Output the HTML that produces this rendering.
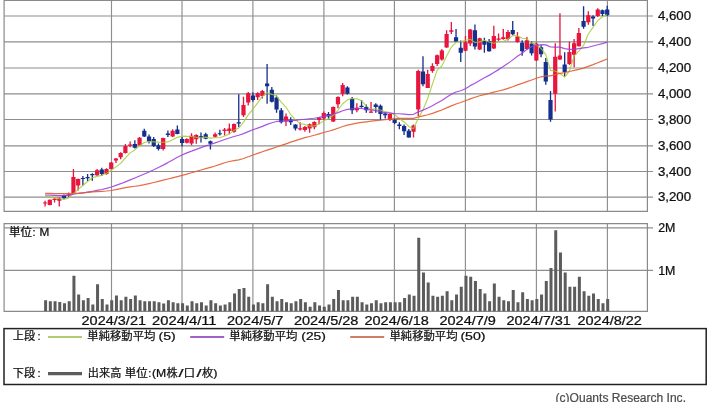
<!DOCTYPE html>
<html><head><meta charset="utf-8"><title>chart</title>
<style>html,body{margin:0;padding:0;background:#fff;overflow:hidden}body{width:709px;height:402px;position:relative;font-family:"Liberation Sans",sans-serif}</style></head>
<body>
<svg width="709" height="402" viewBox="0 0 709 402" style="display:block;position:absolute;left:0;top:0">
<rect x="0" y="0" width="709" height="402" fill="#ffffff"/>
<defs><filter id="soft" x="0" y="0" width="709" height="402" filterUnits="userSpaceOnUse"><feGaussianBlur stdDeviation="0.38"/></filter><filter id="softt" x="0" y="0" width="709" height="402" filterUnits="userSpaceOnUse"><feGaussianBlur stdDeviation="0.2"/></filter></defs>
<path d="M111.5 0.5V211.3M111.5 223.6V311.3M182 0.5V211.3M182 223.6V311.3M252.9 0.5V211.3M252.9 223.6V311.3M323.9 0.5V211.3M323.9 223.6V311.3M394.4 0.5V211.3M394.4 223.6V311.3M465.4 0.5V211.3M465.4 223.6V311.3M536.4 0.5V211.3M536.4 223.6V311.3M607.4 0.5V211.3M607.4 223.6V311.3" stroke="#8e8e8e" stroke-width="1.15" fill="none"/>
<path d="M4.1 197.1H653M4.1 171.5H653M4.1 145.8H653M4.1 119.5H653M4.1 93.85H653M4.1 68H653M4.1 41.85H653M4.1 15.95H653M4.1 227.9H653M4.1 270.3H653" stroke="#8e8e8e" stroke-width="1.15" fill="none"/>
<path d="M4.1 0.5H647.4V211.3H4.1ZM4.1 223.6H647.4V311.3H4.1Z" stroke="#8a8a8a" stroke-width="1.2" fill="none"/>
<g filter="url(#soft)">
<path d="M44.1 300.2h3V311.3h-3ZM48.82 301.2h3V311.3h-3ZM53.55 301.2h3V311.3h-3ZM58.27 302.1h3V311.3h-3ZM62.99 303.3h3V311.3h-3ZM67.72 301.2h3V311.3h-3ZM72.44 275.7h3V311.3h-3ZM77.16 294.5h3V311.3h-3ZM81.89 300.2h3V311.3h-3ZM86.61 297.9h3V311.3h-3ZM91.34 304.6h3V311.3h-3ZM96.06 284.3h3V311.3h-3ZM100.78 298.9h3V311.3h-3ZM105.51 304.6h3V311.3h-3ZM110.23 300.2h3V311.3h-3ZM114.95 295.5h3V311.3h-3ZM119.68 300.2h3V311.3h-3ZM124.4 296.7h3V311.3h-3ZM129.12 298.9h3V311.3h-3ZM133.85 295.5h3V311.3h-3ZM138.57 300.2h3V311.3h-3ZM143.29 301.2h3V311.3h-3ZM148.02 301.2h3V311.3h-3ZM152.74 301.2h3V311.3h-3ZM157.46 302.3h3V311.3h-3ZM162.19 303.6h3V311.3h-3ZM166.91 300.2h3V311.3h-3ZM171.63 302.3h3V311.3h-3ZM176.36 303.3h3V311.3h-3ZM181.08 303.3h3V311.3h-3ZM185.8 305.6h3V311.3h-3ZM190.53 301.2h3V311.3h-3ZM195.25 303.3h3V311.3h-3ZM199.98 302.3h3V311.3h-3ZM204.7 305.6h3V311.3h-3ZM209.42 300.2h3V311.3h-3ZM214.15 303.3h3V311.3h-3ZM218.87 305.6h3V311.3h-3ZM223.59 304.6h3V311.3h-3ZM228.32 302.3h3V311.3h-3ZM233.04 293.4h3V311.3h-3ZM237.76 289h3V311.3h-3ZM242.49 287.9h3V311.3h-3ZM247.21 296.7h3V311.3h-3ZM251.93 304.6h3V311.3h-3ZM256.66 302.3h3V311.3h-3ZM261.38 303.3h3V311.3h-3ZM266.1 284.3h3V311.3h-3ZM270.83 296.7h3V311.3h-3ZM275.55 301.2h3V311.3h-3ZM280.27 298.9h3V311.3h-3ZM285 302.3h3V311.3h-3ZM289.72 303.3h3V311.3h-3ZM294.45 301.2h3V311.3h-3ZM299.17 298.9h3V311.3h-3ZM303.89 302.3h3V311.3h-3ZM308.62 306.8h3V311.3h-3ZM313.34 302.3h3V311.3h-3ZM318.06 305.6h3V311.3h-3ZM322.79 306.8h3V311.3h-3ZM327.51 304.6h3V311.3h-3ZM332.23 298.9h3V311.3h-3ZM336.96 290h3V311.3h-3ZM341.68 300.2h3V311.3h-3ZM346.4 300.2h3V311.3h-3ZM351.13 296.7h3V311.3h-3ZM355.85 296.7h3V311.3h-3ZM360.57 302.3h3V311.3h-3ZM365.3 304.6h3V311.3h-3ZM370.02 303.3h3V311.3h-3ZM374.75 300.2h3V311.3h-3ZM379.47 303.3h3V311.3h-3ZM384.19 302.3h3V311.3h-3ZM388.92 302.3h3V311.3h-3ZM393.64 302.3h3V311.3h-3ZM398.36 302.3h3V311.3h-3ZM403.09 297.9h3V311.3h-3ZM407.81 294.5h3V311.3h-3ZM412.53 295.7h3V311.3h-3ZM417.26 237.8h3V311.3h-3ZM421.98 272.6h3V311.3h-3ZM426.7 282.4h3V311.3h-3ZM431.43 295.7h3V311.3h-3ZM436.15 296.7h3V311.3h-3ZM440.87 295.7h3V311.3h-3ZM445.6 291.3h3V311.3h-3ZM450.32 300.2h3V311.3h-3ZM455.04 294.5h3V311.3h-3ZM459.77 286.8h3V311.3h-3ZM464.49 275.7h3V311.3h-3ZM469.21 276.7h3V311.3h-3ZM473.94 281.1h3V311.3h-3ZM478.66 289h3V311.3h-3ZM483.39 293.4h3V311.3h-3ZM488.11 301.2h3V311.3h-3ZM492.83 283.4h3V311.3h-3ZM497.56 296.7h3V311.3h-3ZM502.28 300.2h3V311.3h-3ZM507 301.2h3V311.3h-3ZM511.73 290h3V311.3h-3ZM516.45 302.3h3V311.3h-3ZM521.17 292.3h3V311.3h-3ZM525.9 298.9h3V311.3h-3ZM530.62 300.2h3V311.3h-3ZM535.34 298.9h3V311.3h-3ZM540.07 294.5h3V311.3h-3ZM544.79 281.1h3V311.3h-3ZM549.51 268.1h3V311.3h-3ZM554.24 230.2h3V311.3h-3ZM558.96 252.4h3V311.3h-3ZM563.68 272.6h3V311.3h-3ZM568.41 286.8h3V311.3h-3ZM573.13 286.8h3V311.3h-3ZM577.86 276.7h3V311.3h-3ZM582.58 291.3h3V311.3h-3ZM587.3 295.7h3V311.3h-3ZM592.03 293.4h3V311.3h-3ZM596.75 298.9h3V311.3h-3ZM601.47 303.3h3V311.3h-3ZM606.2 298.9h3V311.3h-3Z" fill="#5c5c5c"/>
<path d="M45.1 200.7V206.4M49.82 199.5V205.3M54.55 197.8V202.6M59.27 197.5V206.4M68.72 192.5V196.9M73.44 169V193.3M78.16 178.5V190.6M97.06 169V176M106.51 168.3V174.7M111.23 162V169.5M115.95 158V163M120.68 152.3V159.2M125.4 144V153.5M130.12 141.5V147.2M139.57 137V145.7M163.19 137.7V150.4M172.63 129.2V137M186.8 138.3V143.4M191.53 133.2V145.3M196.25 134.3V143.8M215.15 132.4V137.4M224.59 127.9V135.5M229.32 123.5V134.3M234.04 123.5V132.7M243.49 96.7V117.1M248.21 92V105.6M257.66 92.3V99.9M262.38 90V98.6M286 113.4V126.1M300.17 122.3V130.5M304.89 126.1V131.8M309.62 123.5V132.7M314.34 121.2V129.2M319.06 116.9V124.2M323.79 111.5V119.7M333.23 106.4V121.9M337.96 96.2V108.3M342.68 83V96.3M356.85 103.3V112.2M371.02 102V112.8M389.92 113.4V121M413.53 124.4V137.5M418.26 69.7V115.9M427.7 69.7V88.1M432.43 63.3V72.8M437.15 54.4V65.9M441.87 49V60.7M446.6 30.2V47.7M451.32 22V34M465.49 35.9V51.2M470.21 29V46.1M479.66 37.8V49.9M493.83 25.8V49M498.56 33.4V41M503.28 29.1V39.7M508 30.1V40.6M517.45 32V42.7M526.9 37V49.7M536.34 42.4V61.1M555.24 43.3V111.6M559.96 13.3V60M569.41 41.7V65M574.13 39.1V67.3M578.86 28V46.6M588.3 11.2V24.8M597.75 8.2V17.1" stroke="#e8123c" stroke-width="1.3" fill="none"/>
<path d="M43 202.4h4.2V203.6h-4.2ZM47.72 199.8h4.2V205.1h-4.2ZM52.45 198.8h4.2V200.1h-4.2ZM57.17 198.5h4.2V200.7h-4.2ZM66.62 194.2h4.2V195.4h-4.2ZM71.34 177h4.2V193.1h-4.2ZM76.06 179.1h4.2V185.5h-4.2ZM94.96 170.2h4.2V175.3h-4.2ZM104.41 169h4.2V174h-4.2ZM109.13 162.6h4.2V169h-4.2ZM113.85 158.6h4.2V160.5h-4.2ZM118.58 152.9h4.2V157.3h-4.2ZM123.3 145.9h4.2V152.9h-4.2ZM128.02 144.4h4.2V145.7h-4.2ZM137.47 137.7h4.2V145.3h-4.2ZM161.09 138h4.2V149.1h-4.2ZM170.53 130.7h4.2V136.4h-4.2ZM184.7 138.9h4.2V142.7h-4.2ZM189.43 135.8h4.2V143.4h-4.2ZM194.15 134.9h4.2V139.3h-4.2ZM213.05 134.3h4.2V136.8h-4.2ZM222.49 129.4h4.2V131.1h-4.2ZM227.22 128.6h4.2V131.1h-4.2ZM231.94 124.1h4.2V131.7h-4.2ZM241.39 105h4.2V115.2h-4.2ZM246.11 93.3h4.2V102.4h-4.2ZM255.56 92.9h4.2V97.3h-4.2ZM260.28 91h4.2V96.1h-4.2ZM283.9 116.6h4.2V121.6h-4.2ZM298.07 128.3h4.2V129.5h-4.2ZM302.79 127.1h4.2V129.9h-4.2ZM307.52 124.2h4.2V128.6h-4.2ZM312.24 122h4.2V127.3h-4.2ZM316.96 117.8h4.2V119.7h-4.2ZM321.69 113.1h4.2V118.5h-4.2ZM331.13 107h4.2V121.5h-4.2ZM335.86 96.9h4.2V104.2h-4.2ZM340.58 84.9h4.2V93.8h-4.2ZM354.75 107.7h4.2V110.3h-4.2ZM368.92 111.5h4.2V112.8h-4.2ZM387.82 114.1h4.2V119.8h-4.2ZM411.43 125.5h4.2V131.8h-4.2ZM416.16 70.9h4.2V109.6h-4.2ZM425.6 74.1h4.2V88.1h-4.2ZM430.33 65.9h4.2V70.9h-4.2ZM435.05 55.3h4.2V64h-4.2ZM439.77 50.5h4.2V59.4h-4.2ZM444.5 34h4.2V47.4h-4.2ZM449.22 30.2h4.2V31.8h-4.2ZM463.39 42.3h4.2V50.8h-4.2ZM468.11 29.6h4.2V43.6h-4.2ZM477.56 38.2h4.2V49.5h-4.2ZM491.73 35.9h4.2V48.6h-4.2ZM496.46 38.5h4.2V39.7h-4.2ZM501.18 37.3h4.2V39h-4.2ZM505.9 31.9h4.2V39h-4.2ZM515.35 36.4h4.2V42.1h-4.2ZM524.8 40.2h4.2V49.1h-4.2ZM534.24 43.4h4.2V60.5h-4.2ZM553.14 56.7h4.2V93.8h-4.2ZM557.86 55.4h4.2V59.6h-4.2ZM567.31 52h4.2V64.1h-4.2ZM572.03 43.3h4.2V54.8h-4.2ZM576.76 33h4.2V46.3h-4.2ZM586.2 15.2h4.2V22.3h-4.2ZM595.65 9.5h4.2V15.9h-4.2Z" fill="#e8123c"/>
<path d="M63.99 194.4V198.8M82.89 176V185.5M87.61 174V181M92.34 173.2V180.8M101.78 167.7V176M134.85 140.2V148.5M144.29 128.8V137M149.02 134.5V143.4M153.74 137V147M158.46 143.4V150.4M167.91 130.4V137M177.36 125.6V134.2M182.08 137V146.6M200.98 132.4V142.5M205.7 132.7V139.3M210.42 140.6V149.5M219.87 129.8V135.5M238.76 94.2V127.3M252.93 92.3V101.8M267.1 64.1V103.7M271.83 86.9V102.4M276.55 95.6V112.7M281.27 108V123.5M290.72 117.2V125.1M295.45 124.2V130.5M328.51 112.1V119.1M347.4 86.2V94.4M352.13 96.9V114.1M361.57 100.1V107.7M366.3 104.6V112.8M375.75 103.3V112.8M380.47 104.6V119.8M385.19 112.2V118.5M394.64 117.9V124.2M399.36 122.3V129.3M404.09 124.4V135M408.81 129V137.5M422.98 56.3V86.2M456.04 29V41.9M460.77 40.4V61.9M474.94 24.5V49.5M484.39 37.8V52.8M489.11 39.1V51.8M512.73 21.1V35.2M522.17 40.2V55.8M531.62 41.5V55.4M541.07 45.3V57.3M545.79 58V84.7M550.51 91.1V121.8M564.68 52.3V76.5M583.58 6.3V28.7M593.03 15.2V26M602.47 9.5V15.9M607.2 5.7V15.9" stroke="#122f8c" stroke-width="1.3" fill="none"/>
<path d="M61.89 195h4.2V198.2h-4.2ZM80.79 177.9h4.2V179.1h-4.2ZM85.51 177h4.2V178.2h-4.2ZM90.24 174h4.2V175.3h-4.2ZM99.68 169.6h4.2V174h-4.2ZM132.75 144h4.2V147.8h-4.2ZM142.19 130.7h4.2V136.4h-4.2ZM146.92 136.4h4.2V141.5h-4.2ZM151.64 139h4.2V145.9h-4.2ZM156.36 145.3h4.2V149.1h-4.2ZM165.81 133.5h4.2V135.1h-4.2ZM175.26 129.4h4.2V133.9h-4.2ZM179.98 138.9h4.2V143.1h-4.2ZM198.88 136.2h4.2V137.4h-4.2ZM203.6 134.3h4.2V138.7h-4.2ZM208.32 141.2h4.2V143.8h-4.2ZM217.77 133.15h4.2V134.35h-4.2ZM236.66 122.2h4.2V123.5h-4.2ZM250.83 95.4h4.2V99.9h-4.2ZM265 83.4h4.2V86.2h-4.2ZM269.73 89.7h4.2V101.8h-4.2ZM274.45 97.5h4.2V109.6h-4.2ZM279.17 110.2h4.2V122.3h-4.2ZM288.62 119.7h4.2V122.3h-4.2ZM293.35 124.5h4.2V128.4h-4.2ZM326.41 114h4.2V116.6h-4.2ZM345.3 87.4h4.2V93.8h-4.2ZM350.03 98.8h4.2V110.3h-4.2ZM359.47 105.8h4.2V107.1h-4.2ZM364.2 107.1h4.2V110.3h-4.2ZM373.64 104.6h4.2V107.1h-4.2ZM378.37 105.8h4.2V114.1h-4.2ZM383.09 113.4h4.2V115.3h-4.2ZM392.54 119.8h4.2V123.1h-4.2ZM397.26 124.4h4.2V126.1h-4.2ZM401.99 126.1h4.2V131.2h-4.2ZM406.71 130.8h4.2V137.5h-4.2ZM420.88 71.6h4.2V84.3h-4.2ZM453.94 37.2h4.2V41.6h-4.2ZM458.67 47.7h4.2V52.8h-4.2ZM472.84 30.2h4.2V46.5h-4.2ZM482.29 41h4.2V44.8h-4.2ZM487.01 41h4.2V51.2h-4.2ZM510.63 30.1h4.2V34.3h-4.2ZM520.07 42.7h4.2V51.2h-4.2ZM529.52 43.4h4.2V53.3h-4.2ZM538.97 47.2h4.2V54.2h-4.2ZM543.69 61.9h4.2V81.6h-4.2ZM548.41 100h4.2V119.5h-4.2ZM562.58 64.4h4.2V72.1h-4.2ZM581.48 21h4.2V26.7h-4.2ZM590.93 16.5h4.2V18.4h-4.2ZM600.37 10.2h4.2V14h-4.2ZM605.1 9.5h4.2V15.2h-4.2Z" fill="#122f8c"/>
<path d="M45.1 195.78L49.82 196.94L54.55 197.9L59.27 198.8L63.99 199.54L68.72 197.92L73.44 193.36L78.16 189.42L82.89 185.54L87.61 181.54L92.34 177.74L97.06 176.38L101.78 175.36L106.51 173.34L111.23 170.22L115.95 166.88L120.68 163.42L125.4 157.8L130.12 152.88L134.85 149.92L139.57 145.74L144.29 142.44L149.02 141.56L153.74 141.86L158.46 142.12L163.19 142.18L167.91 141.92L172.63 139.76L177.36 137.36L182.08 136.16L186.8 136.34L191.53 136.48L196.25 137.32L200.98 138.02L205.7 137.14L210.42 138.12L215.15 137.82L219.87 137.7L224.59 136.1L229.32 134.08L234.04 130.14L238.76 127.98L243.49 122.12L248.21 114.9L252.93 109.16L257.66 102.92L262.38 96.42L267.1 92.66L271.83 94.36L276.55 96.3L281.27 102.18L286 107.3L290.72 114.52L295.45 119.84L300.17 123.6L304.89 124.56L309.62 126.08L314.34 126.02L319.06 123.9L323.79 120.84L328.51 118.74L333.23 115.3L337.96 110.28L342.68 103.7L347.4 99.84L352.13 98.58L356.85 98.72L361.57 100.76L366.3 105.84L371.02 109.38L375.75 108.74L380.47 110.02L385.19 111.66L389.92 112.42L394.64 114.74L399.36 118.54L404.09 121.96L408.81 126.4L413.53 128.68L418.26 118.24L422.98 109.88L427.7 98.46L432.43 84.14L437.15 70.1L441.87 66.02L446.6 55.96L451.32 47.18L456.04 42.32L460.77 41.82L465.49 40.18L470.21 39.3L474.94 42.56L479.66 41.88L484.39 40.28L489.11 42.06L493.83 43.32L498.56 41.72L503.28 41.54L508 38.96L512.73 35.58L517.45 35.68L522.17 38.22L526.9 38.8L531.62 43.08L536.34 44.9L541.07 48.46L545.79 54.54L550.51 70.4L555.24 71.08L559.96 73.48L564.68 77.06L569.41 71.14L574.13 55.9L578.86 51.16L583.58 45.42L588.3 34.04L593.03 27.32L597.75 20.56L602.47 16.76L607.2 14.46" stroke="#a0cc30" stroke-width="1.1" stroke-opacity="0.85" fill="none" stroke-linejoin="round"/>
<path d="M45.1 195L49.82 195.19L54.55 195.37L59.27 195.56L63.99 195.55L68.72 195.06L73.44 194.25L78.16 193.47L82.89 192.79L87.61 192.11L92.34 191.35L97.06 190.46L101.78 189.52L106.51 188.38L111.23 186.95L115.95 185.36L120.68 183.69L125.4 181.85L130.12 179.9L134.85 177.94L139.57 175.97L144.29 174L149.02 171.98L153.74 169.82L158.46 167.52L163.19 165.13L167.91 162.6L172.63 159.9L177.36 157.26L182.08 155.02L186.8 152.84L191.53 151.17L196.25 149.36L200.98 147.6L205.7 145.9L210.42 144.49L215.15 142.92L219.87 141.19L224.59 139.49L229.32 138L234.04 136.51L238.76 135.28L243.49 133.64L248.21 131.64L252.93 129.77L257.66 128.07L262.38 126.39L267.1 124.33L271.83 122.79L276.55 121.47L281.27 121.09L286 120.56L290.72 120.4L295.45 120.31L300.17 119.75L304.89 119.26L309.62 118.75L314.34 118.24L319.06 117.46L323.79 116.42L328.51 115.34L333.23 114.21L337.96 112.64L342.68 110.79L347.4 109.38L352.13 108.85L356.85 108.27L361.57 108.47L366.3 109.3L371.02 109.93L375.75 110.61L380.47 111.56L385.19 112.72L389.92 113.21L394.64 113.68L399.36 113.74L404.09 114.19L408.81 114.61L413.53 114.29L418.26 111.87L422.98 110.08L427.7 108.03L432.43 105.68L437.15 103.08L441.87 100.55L446.6 97.23L451.32 94.13L456.04 91.97L460.77 90.77L465.49 88.81L470.21 85.66L474.94 83.28L479.66 80.51L484.39 77.84L489.11 75.38L493.83 72.54L498.56 69.62L503.28 66.6L508 63.37L512.73 59.87L517.45 56.34L522.17 53.16L526.9 49.39L531.62 46.7L536.34 45.71L541.07 44.56L545.79 44.87L550.51 47.02L555.24 47.07L559.96 47.15L564.68 48.55L569.41 49.39L574.13 49.41L578.86 48.56L583.58 47.95L588.3 47.29L593.03 46L597.75 44.78L602.47 43.57L607.2 42.18" stroke="#9a3edc" stroke-width="1.2" stroke-opacity="0.88" fill="none" stroke-linejoin="round"/>
<path d="M45.1 193.3L49.82 193.42L54.55 193.53L59.27 193.65L63.99 193.71L68.72 193.65L73.44 193.48L78.16 193.22L82.89 192.81L87.61 192.34L92.34 191.93L97.06 191.6L101.78 191.3L106.51 190.99L111.23 190.5L115.95 189.65L120.68 188.62L125.4 187.68L130.12 186.92L134.85 186.28L139.57 185.58L144.29 184.69L149.02 183.63L153.74 182.51L158.46 181.37L163.19 180.2L167.91 179.02L172.63 177.82L177.36 176.59L182.08 175.35L186.8 174.08L191.53 172.74L196.25 171.38L200.98 170.02L205.7 168.66L210.42 167.32L215.15 165.98L219.87 164.41L224.59 162.71L229.32 161.47L234.04 160.69L238.76 159.81L243.49 158.49L248.21 156.8L252.93 155.02L257.66 153.32L262.38 151.71L267.1 150.13L271.83 148.56L276.55 147.01L281.27 145.44L286 143.81L290.72 142.19L295.45 140.65L300.17 139.14L304.89 137.69L309.62 136.51L314.34 135.25L319.06 133.91L323.79 132.48L328.51 131.21L333.23 129.87L337.96 128.24L342.68 126.51L347.4 125.09L352.13 124.09L356.85 123.17L361.57 122.43L366.3 121.83L371.02 121.2L375.75 120.66L380.47 120.27L385.19 119.76L389.92 119.15L394.64 118.62L399.36 118.38L404.09 118.31L408.81 118.47L413.53 118.34L418.26 116.96L422.98 115.94L427.7 114.73L432.43 113.34L437.15 111.69L441.87 109.97L446.6 107.86L451.32 105.84L456.04 104.05L460.77 102.55L465.49 100.81L470.21 98.85L474.94 97.2L479.66 95.71L484.39 94.57L489.11 93.45L493.83 92.18L498.56 91.02L503.28 89.91L508 88.38L512.73 86.76L517.45 84.92L522.17 83.43L526.9 81.64L531.62 80.04L536.34 78.28L541.07 76.79L545.79 75.91L550.51 75.82L555.24 74.58L559.96 73.44L564.68 72.57L569.41 71.48L574.13 70.42L578.86 69.45L583.58 68.18L588.3 66.36L593.03 64.64L597.75 62.77L602.47 60.9L607.2 59.04" stroke="#e25c30" stroke-width="1.2" stroke-opacity="0.9" fill="none" stroke-linejoin="round"/>
</g>
<g filter="url(#softt)">
<g font-family="'Liberation Sans', sans-serif" stroke="#0c0c0c" stroke-width="0.22">
<text x="657.9" y="201.15" font-size="12" textLength="33.2" lengthAdjust="spacingAndGlyphs" fill="#0c0c0c">3,200</text>
<text x="657.9" y="175.55" font-size="12" textLength="33.2" lengthAdjust="spacingAndGlyphs" fill="#0c0c0c">3,400</text>
<text x="657.9" y="149.85" font-size="12" textLength="33.2" lengthAdjust="spacingAndGlyphs" fill="#0c0c0c">3,600</text>
<text x="657.9" y="123.55" font-size="12" textLength="33.2" lengthAdjust="spacingAndGlyphs" fill="#0c0c0c">3,800</text>
<text x="657.9" y="97.9" font-size="12" textLength="33.2" lengthAdjust="spacingAndGlyphs" fill="#0c0c0c">4,000</text>
<text x="657.9" y="72.05" font-size="12" textLength="33.2" lengthAdjust="spacingAndGlyphs" fill="#0c0c0c">4,200</text>
<text x="657.9" y="45.9" font-size="12" textLength="33.2" lengthAdjust="spacingAndGlyphs" fill="#0c0c0c">4,400</text>
<text x="657.9" y="20" font-size="12" textLength="33.2" lengthAdjust="spacingAndGlyphs" fill="#0c0c0c">4,600</text>
<text x="658.2" y="232.1" font-size="12" textLength="17.2" lengthAdjust="spacingAndGlyphs" fill="#0c0c0c">2M</text>
<text x="658.2" y="274.5" font-size="12" textLength="17.2" lengthAdjust="spacingAndGlyphs" fill="#0c0c0c">1M</text>
<text x="81.57" y="324.8" font-size="12" textLength="64.45" lengthAdjust="spacingAndGlyphs" fill="#0c0c0c">2024/3/21</text>
<text x="152.08" y="324.8" font-size="12" textLength="64.45" lengthAdjust="spacingAndGlyphs" fill="#0c0c0c">2024/4/11</text>
<text x="226.95" y="324.8" font-size="12" textLength="56.5" lengthAdjust="spacingAndGlyphs" fill="#0c0c0c">2024/5/7</text>
<text x="293.97" y="324.8" font-size="12" textLength="64.45" lengthAdjust="spacingAndGlyphs" fill="#0c0c0c">2024/5/28</text>
<text x="364.47" y="324.8" font-size="12" textLength="64.45" lengthAdjust="spacingAndGlyphs" fill="#0c0c0c">2024/6/18</text>
<text x="439.45" y="324.8" font-size="12" textLength="56.5" lengthAdjust="spacingAndGlyphs" fill="#0c0c0c">2024/7/9</text>
<text x="506.47" y="324.8" font-size="12" textLength="64.45" lengthAdjust="spacingAndGlyphs" fill="#0c0c0c">2024/7/31</text>
<text x="577.47" y="324.8" font-size="12" textLength="64.45" lengthAdjust="spacingAndGlyphs" fill="#0c0c0c">2024/8/22</text>
<text x="158.6" y="340.4" font-size="11" textLength="17.2" lengthAdjust="spacingAndGlyphs" fill="#0c0c0c">(5)</text>
<text x="301.3" y="340.4" font-size="11" textLength="24.6" lengthAdjust="spacingAndGlyphs" fill="#0c0c0c">(25)</text>
<text x="460.4" y="340.4" font-size="11" textLength="25.2" lengthAdjust="spacingAndGlyphs" fill="#0c0c0c">(50)</text>
<text x="37.6" y="340.4" font-size="11" fill="#0c0c0c">:</text>
<text x="37.6" y="377.1" font-size="11" fill="#0c0c0c">:</text>
<text x="148.2" y="377.1" font-size="11" fill="#0c0c0c">:</text>
<text x="151.9" y="377.1" font-size="11" textLength="14.2" lengthAdjust="spacingAndGlyphs" fill="#0c0c0c">(M</text>
<text x="178.6" y="377.1" font-size="11" textLength="5" lengthAdjust="spacingAndGlyphs" fill="#0c0c0c">/</text>
<text x="196.4" y="377.1" font-size="11" textLength="5" lengthAdjust="spacingAndGlyphs" fill="#0c0c0c">/</text>
<text x="213.3" y="377.1" font-size="11" textLength="4.2" lengthAdjust="spacingAndGlyphs" fill="#0c0c0c">)</text>
<text x="32.6" y="235.9" font-size="11" fill="#0c0c0c">:</text>
<text x="39.5" y="235.9" font-size="11" textLength="9.8" lengthAdjust="spacingAndGlyphs" fill="#0c0c0c">M</text>
<text x="555.6" y="401.6" font-size="12" textLength="130.4" lengthAdjust="spacingAndGlyphs" fill="#4c4c4c" stroke="#4c4c4c">(c)Quants Research Inc.</text>
</g>
<g font-family="'Liberation Sans', 'Noto Sans CJK JP', sans-serif" font-size="11" fill="#0c0c0c" stroke="#0c0c0c" stroke-width="0.22">
<text x="12.8" y="340.4" textLength="22.2" lengthAdjust="spacingAndGlyphs">上段</text>
<text x="12.8" y="377.1" textLength="22.2" lengthAdjust="spacingAndGlyphs">下段</text>
<text x="87.3" y="340.4" textLength="68" lengthAdjust="spacingAndGlyphs">単純移動平均</text>
<text x="229.3" y="340.4" textLength="68" lengthAdjust="spacingAndGlyphs">単純移動平均</text>
<text x="389.5" y="340.4" textLength="68" lengthAdjust="spacingAndGlyphs">単純移動平均</text>
<text x="87.8" y="377.1" textLength="33.5" lengthAdjust="spacingAndGlyphs">出来高</text>
<text x="124.8" y="377.1" textLength="23" lengthAdjust="spacingAndGlyphs">単位</text>
<text x="166.4" y="377.1" textLength="11.2" lengthAdjust="spacingAndGlyphs">株</text>
<text x="183.8" y="377.1" textLength="11.2" lengthAdjust="spacingAndGlyphs">口</text>
<text x="201.9" y="377.1" textLength="11.2" lengthAdjust="spacingAndGlyphs">枚</text>
<text x="9" y="235.9" textLength="23" lengthAdjust="spacingAndGlyphs">単位</text>
</g>
</g>
<rect x="4" y="328.6" width="702.2" height="55.9" fill="none" stroke="#222222" stroke-width="1.5"/>
<path d="M48 336.9H82" stroke="#b4cc70" stroke-width="2"/>
<path d="M190.2 336.9H224.2" stroke="#a064c8" stroke-width="2"/>
<path d="M350.2 336.9H384.2" stroke="#d27d69" stroke-width="2"/>
<path d="M48 373.7H82" stroke="#5c5c5c" stroke-width="3.2"/>
</svg>
</body></html>
